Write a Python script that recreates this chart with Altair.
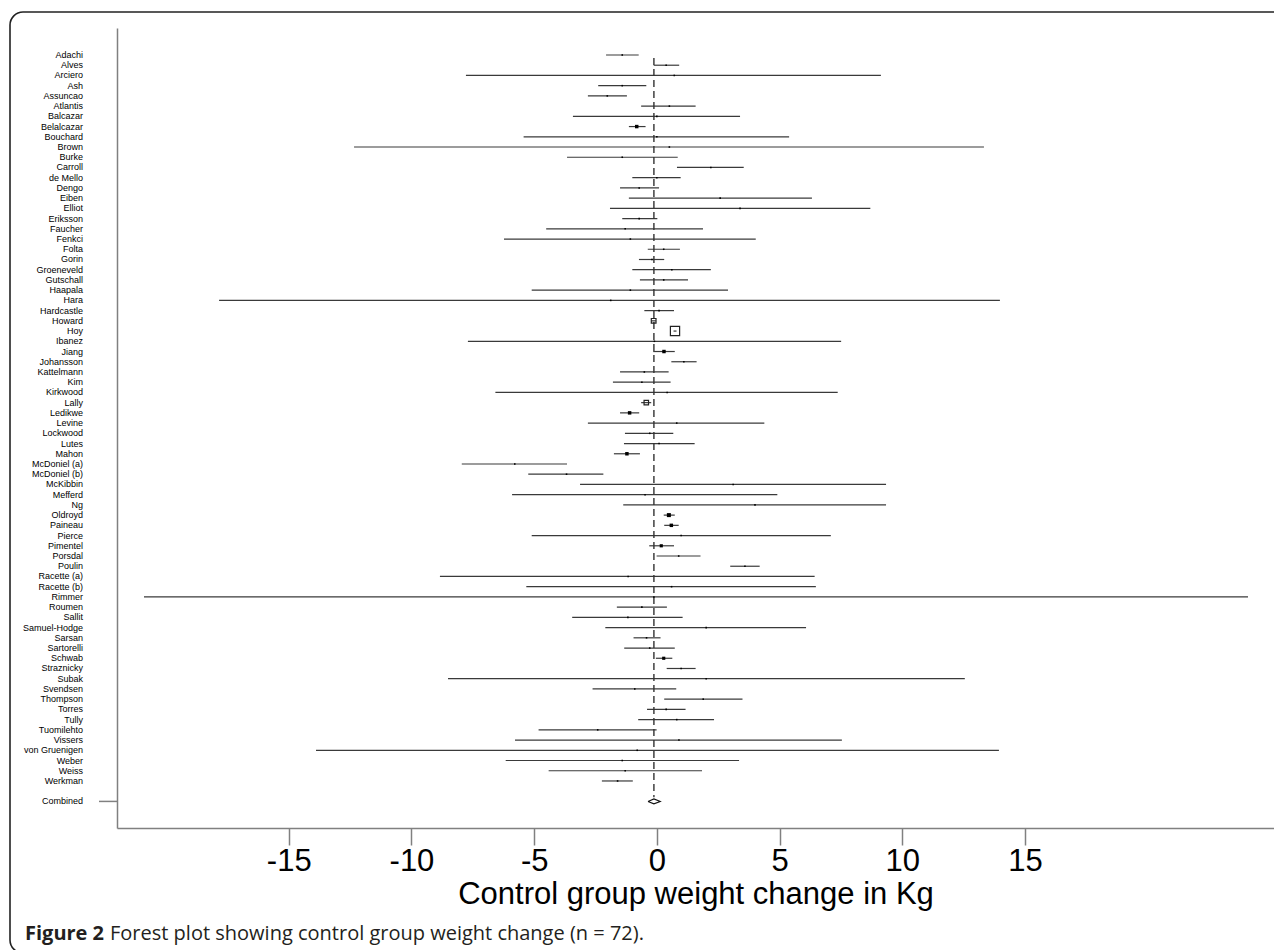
import altair as alt
import pandas as pd

names = ["Adachi", "Alves", "Arciero", "Ash", "Assuncao", "Atlantis", "Balcazar", "Belalcazar",
         "Bouchard", "Brown", "Burke", "Carroll", "de Mello", "Dengo", "Eiben", "Elliot",
         "Eriksson", "Faucher", "Fenkci", "Folta", "Gorin", "Groeneveld", "Gutschall", "Haapala",
         "Hara", "Hardcastle", "Howard", "Hoy", "Ibanez", "Jiang", "Johansson", "Kattelmann",
         "Kim", "Kirkwood", "Lally", "Ledikwe", "Levine", "Lockwood", "Lutes", "Mahon",
         "McDoniel (a)", "McDoniel (b)", "McKibbin", "Mefferd", "Ng", "Oldroyd", "Paineau", "Pierce",
         "Pimentel", "Porsdal", "Poulin", "Racette (a)", "Racette (b)", "Rimmer", "Roumen", "Sallit",
         "Samuel-Hodge", "Sarsan", "Sartorelli", "Schwab", "Straznicky", "Subak", "Svendsen", "Thompson",
         "Torres", "Tully", "Tuomilehto", "Vissers", "von Gruenigen", "Weber", "Weiss", "Werkman"]

est = [-1.41, 0.38, 0.71, -1.41, -2.02, 0.51, 0.00, -0.82,
       0.00, 0.51, -1.41, 2.20, 0.00, -0.72, 2.58, 3.39,
       -0.72, -1.29, -1.08, 0.28, -0.20, 0.61, 0.28, -1.08,
       -1.88, 0.09, -0.13, 0.74, -0.10, 0.29, 1.10, -0.51,
       -0.61, 0.42, -0.43, -1.11, 0.81, -0.29, 0.09, -1.22,
       -5.79, -3.68, 3.11, -0.48, 4.00, 0.49, 0.59, 0.99,
       0.18, 0.89, 3.59, -1.17, 0.60, -0.12, -0.61, -1.18,
       2.01, -0.42, -0.29, 0.28, 0.99, 2.01, -0.90, 1.89,
       0.38, 0.81, -2.41, 0.90, -0.80, -1.41, -1.29, -1.60]

lo = [-2.07, -0.13, -7.78, -2.39, -2.81, -0.64, -3.42, -1.14,
      -5.43, -12.34, -3.66, 0.82, -1.00, -1.50, -1.14, -1.91,
      -1.41, -4.51, -6.23, -0.37, -0.73, -1.00, -0.69, -5.10,
      -17.84, -0.51, -0.22, 0.68, -7.70, -0.15, 0.59, -1.50,
      -1.79, -6.58, -0.64, -1.50, -2.81, -1.30, -1.34, -1.75,
      -7.95, -5.24, -3.13, -5.90, -1.37, 0.28, 0.30, -5.10,
      -0.31, -0.01, 2.99, -8.84, -5.32, -20.90, -1.63, -3.45,
      -2.10, -0.95, -1.33, -0.04, 0.40, -8.51, -2.62, 0.30,
      -0.40, -0.76, -4.82, -5.78, -13.89, -6.16, -4.41, -2.24]

hi = [-0.74, 0.91, 9.13, -0.43, -1.22, 1.58, 3.39, -0.46,
      5.39, 13.33, 0.85, 3.54, 0.97, 0.09, 6.32, 8.70,
      0.02, 1.88, 4.03, 0.94, 0.30, 2.20, 1.27, 2.90,
      13.98, 0.70, -0.04, 0.80, 7.51, 0.73, 1.62, 0.48,
      0.56, 7.37, -0.23, -0.72, 4.38, 0.67, 1.54, -0.69,
      -3.66, -2.18, 9.34, 4.91, 9.34, 0.73, 0.89, 7.09,
      0.70, 1.78, 4.19, 6.43, 6.48, 24.09, 0.41, 1.05,
      6.08, 0.15, 0.73, 0.63, 1.58, 12.55, 0.79, 3.49,
      1.17, 2.33, -0.01, 7.54, 13.94, 3.35, 1.84, -0.98]

# marker appearance (box area in px^2)
bold_markers = {"Belalcazar": 12, "Jiang": 12, "Ledikwe": 12, "Mahon": 12,
                "Oldroyd": 16, "Paineau": 12, "Pimentel": 10, "Schwab": 10}
hollow_markers = {"Howard": 22, "Lally": 20, "Hoy": 85}
default_marker = 2.5

comb_label = "Combined"
comb_est, comb_lo, comb_hi = -0.12, -0.36, 0.14

x_ticks = [-15, -10, -5, 0, 5, 10, 15]
x_title = "Control group weight change in Kg"
caption_bold = "Figure 2"
caption_rest = "Forest plot showing control group weight change (n = 72)."

# ---------------------------------------------------------------
idx = list(range(1, len(names) + 1))
comb_idx = len(names) + 2

df = pd.DataFrame({"name": names, "est": est, "lo": lo, "hi": hi, "idx": idx})
df["size"] = [bold_markers.get(n, hollow_markers.get(n, default_marker)) for n in names]
df["hollow"] = [n in hollow_markers for n in names]

labels_df = pd.DataFrame({"name": names + [comb_label], "idx": idx + [comb_idx]})

xs = alt.Scale(domain=[-22.0, 25.15], nice=False, zero=False)
ys = alt.Scale(domain=[-1.64, 76.6], reverse=True, nice=False, zero=False)

xaxis = alt.Axis(values=x_ticks, title=x_title, grid=False, tickSize=17, tickColor="#808080",
                 tickWidth=1.5, domainColor="#808080", domainWidth=1.5,
                 labelExpr="'' + datum.value",
                 labelFont="Liberation Sans", labelFontSize=31, labelColor="black",
                 labelPadding=1, labelFlush=False,
                 titleFont="Liberation Sans", titleFontSize=31, titleFontWeight="normal",
                 titleColor="black", titlePadding=3)
yaxis = alt.Axis(labels=False, ticks=False, title=None, grid=False,
                 domainColor="#808080", domainWidth=1.5)


def X(f):
    return alt.X(f, type="quantitative", scale=xs, axis=xaxis)


def Y(f):
    return alt.Y(f, type="quantitative", scale=ys, axis=yaxis)


one = pd.DataFrame({"k": [0]})

border = alt.Chart(one).mark_rect(fillOpacity=0, stroke="#222222", strokeWidth=1.6,
                                  cornerRadius=13).encode(
    x=alt.value(-107), x2=alt.value(1185), y=alt.value(-16), y2=alt.value(925))

ci = alt.Chart(df).mark_rule(color="#3a3a3a", strokeWidth=1.2).encode(
    x=X("lo"), x2="hi", y=Y("idx"))

dash_df = pd.DataFrame({"x": [comb_est], "y1": [1.3], "y2": [comb_idx - 0.4]})
dashed = alt.Chart(dash_df).mark_rule(color="#333333", strokeWidth=1.4, strokeDash=[7, 4]).encode(
    x=X("x"), y=Y("y1"), y2="y2")

filled = alt.Chart(df[~df["hollow"]]).mark_square(color="black", filled=True, opacity=1).encode(
    x=X("est"), y=Y("idx"), size=alt.Size("size:Q", scale=None, legend=None))

hollow = alt.Chart(df[df["hollow"]]).mark_square(filled=False, stroke="#222222", strokeWidth=1.2,
                                                 opacity=1).encode(
    x=X("est"), y=Y("idx"), size=alt.Size("size:Q", scale=None, legend=None))

labels = alt.Chart(labels_df).mark_text(align="right", baseline="middle", fontSize=9,
                                        font="Liberation Sans", color="black").encode(
    x=alt.value(-34), y=Y("idx"), text="name")

comb_tick = alt.Chart(pd.DataFrame({"idx": [comb_idx]})).mark_rule(color="#808080", strokeWidth=1.5).encode(
    x=alt.value(-18), x2=alt.value(0), y=Y("idx"))

half = 0.24
diamond_df = pd.DataFrame({
    "x": [comb_lo, comb_est, comb_hi, comb_est, comb_lo],
    "y": [comb_idx, comb_idx - half, comb_idx, comb_idx + half, comb_idx],
    "o": [0, 1, 2, 3, 4]})
diamond = alt.Chart(diamond_df).mark_line(color="#111111", strokeWidth=1.1).encode(
    x=X("x"), y=Y("y"), order="o:Q")

cap1 = alt.Chart(one).mark_text(text=caption_bold, align="left", baseline="alphabetic",
                                font="Open Sans", fontSize=20, fontWeight="bold",
                                color="#231f20").encode(x=alt.value(-92), y=alt.value(912))
cap2 = alt.Chart(one).mark_text(text=caption_rest, align="left", baseline="alphabetic",
                                font="Open Sans", fontSize=20, fontWeight="normal",
                                color="#231f20").encode(x=alt.value(-7), y=alt.value(912))

chart = alt.layer(border, ci, dashed, filled, hollow, labels, comb_tick, diamond, cap1, cap2).properties(
    width=1157, height=800,
    autosize=alt.AutoSizeParams(type="none"),
    padding={"left": 109, "top": 20, "right": 0, "bottom": 122},
).configure_view(strokeWidth=0)

chart.save("out.html", embed_options={"renderer": "svg", "actions": False})
